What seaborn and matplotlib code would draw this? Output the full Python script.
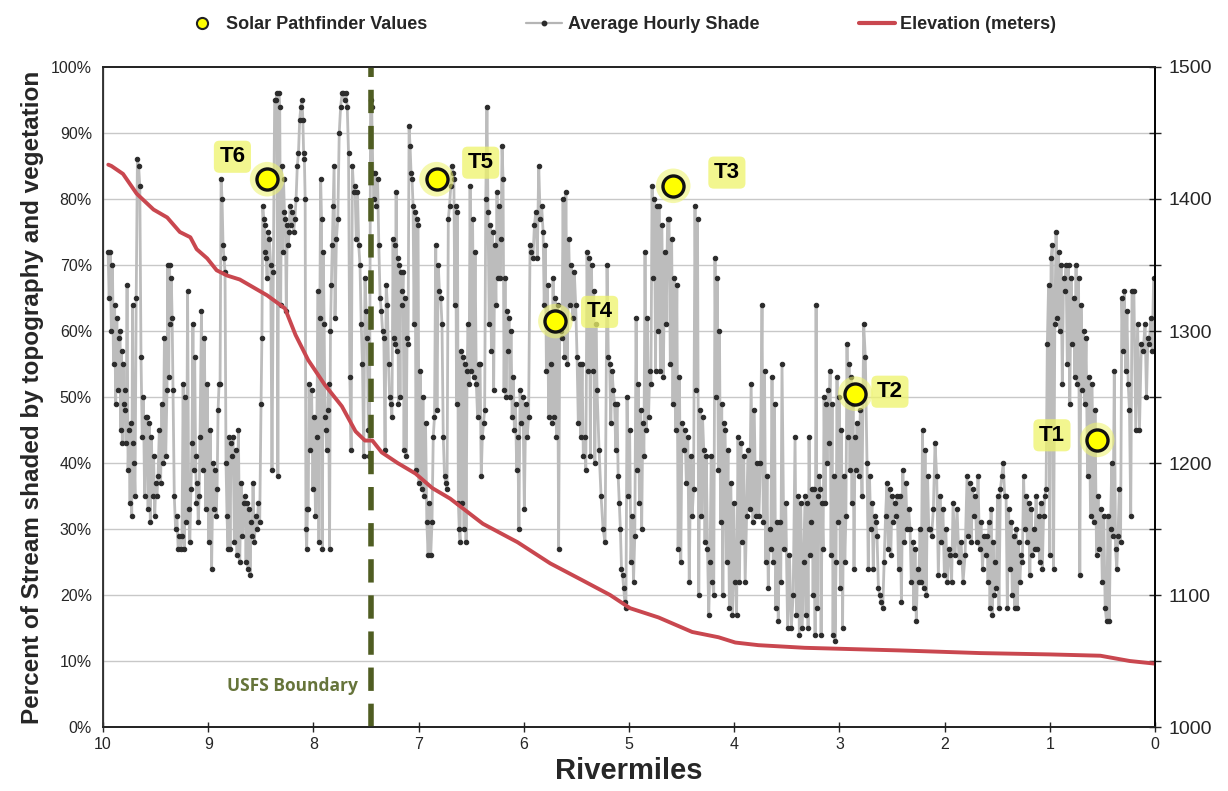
import numpy as np
import pandas as pd
import matplotlib
matplotlib.use("Agg")
import matplotlib.pyplot as plt
from matplotlib.lines import Line2D
from matplotlib.ticker import MultipleLocator, FuncFormatter
import seaborn as sns

# ---------------- data ----------------
# Average hourly shade (%) in short segments; each segment starts at the given rivermile
starts_G = [9.952, 9.838, 9.781, 9.743, 9.696, 9.582, 9.477, 9.392, 9.335, 9.249,
            9.154, 9.078, 8.954, 8.878, 8.831, 8.764, 8.650, 8.574, 8.498, 8.432]
shade_G = [
    [72, 65, 72, 60, 70, 55, 64, 49, 62, 51, 59],
    [60, 45, 57, 43, 55, 49, 51, 48],
    [43, 67, 39, 45],
    [34, 46, 32, 64, 43, 40],
    [35, 65, 86, 85, 82, 56, 44, 50, 35, 47],
    [47, 33, 46, 31, 44, 35, 41, 32, 37, 35],
    [38, 45, 37, 49, 40, 59, 41],
    [51, 70, 53, 70, 61, 68, 62],
    [51, 35, 30, 32, 27, 29, 27],
    [29, 52, 27, 50, 31, 66, 33, 28, 36],
    [43, 61, 39, 56, 41, 34, 37, 31, 35],
    [44, 63, 39, 59, 33, 52, 28, 45, 24],
    [40, 33, 39, 32, 36, 48, 52, 52],
    [83, 80, 73, 71, 69],
    [40, 32, 27, 44, 27, 43, 41],
    [44, 28, 42, 26, 45, 25, 37, 29, 34],
    [35, 25, 34, 24, 33, 23, 31, 29],
    [37, 28, 32, 30, 34, 31],
    [49, 59, 79, 77, 76, 72, 71, 68],
    [75, 74, 70, 39, 69, 95],
]
starts_H = [8.356, 8.222, 8.108, 8.042, 7.956, 7.890, 7.795, 7.728, 7.605, 7.510,
            7.414, 7.319, 7.243, 7.148, 7.091, 6.996, 6.873, 6.778]
shade_H = [
    [95, 96, 38, 96, 94, 64, 85, 72, 83, 78, 77, 63, 76, 73, 75],
    [79, 76, 78, 75, 77, 80, 85, 87, 92, 94],
    [95, 92, 87, 86, 80, 30, 27, 33, 33],
    [52, 42, 51, 36, 47, 32, 44],
    [66, 28, 62, 83, 77, 27, 72, 61],
    [47, 45, 42, 48, 52, 27, 60, 67, 73, 79, 85],
    [62, 74, 77, 90, 94],
    [96, 96, 95, 96, 94, 87, 53, 42, 85, 81],
    [82, 74, 81, 73, 70, 61, 55, 41],
    [68, 63, 59, 45, 41, 95, 94, 84, 80],
    [84, 79, 83, 73, 65, 63, 60, 59],
    [42, 67, 64, 55, 50, 49, 47],
    [74, 59, 73, 58, 81, 57, 71, 49, 70, 50, 69, 66, 64],
    [69, 42, 65, 41, 59, 58],
    [91, 88, 84, 83, 79, 61, 78, 39, 77, 76],
    [37, 54, 36, 50, 35, 46, 31, 26, 34, 26],
    [31, 44, 47, 73, 48, 70, 66, 65],
    [61, 44, 38, 37, 36, 77, 79, 82],
]
starts_I = [6.682, 6.597, 6.511, 6.416, 6.340, 6.255, 6.188, 6.122, 6.036, 5.941,
            5.817, 5.722, 5.627, 5.494, 5.399, 5.304, 5.209, 5.114]
shade_I = [
    [85, 84, 83, 64, 79, 49, 78, 34, 30, 28],
    [57, 34, 56, 30, 55, 28, 54, 61, 52],
    [82, 54, 77, 53, 72, 52, 47, 55],
    [55, 38, 44, 46, 48, 80, 94],
    [78, 61, 76, 57, 75, 51, 73, 64],
    [81, 68, 79, 68, 74, 88, 83],
    [51, 68, 50, 63, 57, 62, 50],
    [60, 47, 53, 45, 49, 39, 44, 30],
    [51, 46, 50, 33, 49, 44, 47],
    [73, 72, 71, 76, 78, 71, 85, 77, 79],
    [75, 64, 73, 54, 67, 47, 62, 55, 46],
    [68, 47, 65, 44, 64, 27, 61, 60, 59],
    [80, 56, 81, 55, 74, 64, 70, 62, 69, 64],
    [56, 46, 55, 44, 55, 41, 44, 39],
    [72, 54, 71, 41, 70, 54, 66, 40, 61],
    [51, 42, 35, 30, 28],
    [70, 56, 55, 46, 54, 51, 49, 42],
    [49, 38, 34, 30, 24, 23, 21, 19, 18],
]
starts_J = [5.019, 4.933, 4.848, 4.781, 4.715, 4.620, 4.496, 4.373, 4.278, 4.183,
            4.087, 3.964, 3.869, 3.736, 3.641, 3.546, 3.422]
shade_J = [
    [50, 35, 45, 25, 32, 22, 29],
    [62, 39, 52, 34, 48, 30, 46, 41],
    [72, 45, 62, 47, 54, 52],
    [82, 68, 80, 54, 79, 60],
    [79, 54, 76, 53, 72, 61, 77],
    [77, 55, 74, 49, 68, 45, 67, 27, 53, 25],
    [46, 42, 45, 37, 44, 22, 41, 32, 36],
    [79, 51, 77, 20, 48, 32, 47, 42],
    [28, 41, 27, 17, 25, 41, 22, 20],
    [71, 50, 68, 39, 60, 31, 49, 20, 46],
    [45, 25, 42, 18, 37, 17, 34, 22, 17],
    [44, 22, 43, 28, 41, 22, 32],
    [42, 33, 52, 31, 48, 32, 40, 32, 40],
    [64, 31, 54, 25, 38, 21, 30, 27],
    [53, 25, 49, 18, 31, 16, 31, 22],
    [55, 27, 34, 15, 26, 15, 20],
    [44, 17, 35, 14, 34, 15, 25],
]
starts_K = [3.327, 3.260, 3.184, 3.089, 3.023, 2.928, 2.833, 2.738, 2.643, 2.548,
            2.452, 2.329, 2.234, 2.139, 2.044, 1.920, 1.787]
shade_K = [
    [35, 17, 34, 15, 44, 26, 31],
    [36, 20, 36, 14, 64, 18, 35, 38],
    [36, 14, 34, 27, 50, 34, 49, 40, 51, 43],
    [54, 26, 49, 14, 38, 13, 25],
    [53, 31, 50, 21, 45, 15, 38, 25, 32],
    [58, 44, 55, 39, 53, 34, 49, 24, 44, 39],
    [46, 38, 48, 35, 61, 56],
    [40, 24, 38, 30, 34, 24, 32, 31],
    [29, 21, 20, 19, 18, 25, 32],
    [37, 27, 36, 26, 35, 31, 34, 32],
    [35, 24, 35, 19, 39, 28, 37, 30, 33],
    [30, 22, 28, 18, 27, 16, 24, 22],
    [30, 22, 45, 21, 42, 20, 38, 30],
    [30, 29, 33, 43, 38, 23],
    [35, 28, 33, 23, 30, 22, 27, 26, 22],
    [34, 26, 33, 25, 28, 22, 26],
    [38, 29, 37, 28, 36, 32, 35, 28],
]
starts_L = [1.683, 1.597, 1.511, 1.416, 1.321, 1.226, 1.131, 1.036, 0.941, 0.846,
            0.751, 0.656, 0.542, 0.447, 0.352, 0.219, 0.095]
shade_L = [
    [38, 27, 31, 24, 29, 26],
    [29, 22, 31, 18, 33, 17, 28, 20, 25],
    [21, 35, 18, 36, 38, 40, 35],
    [35, 18, 33, 24, 31, 20, 29, 18],
    [30, 18, 28, 22, 26, 25, 38, 30],
    [35, 28, 34, 23, 33, 26, 30, 27],
    [35, 27, 32, 25, 34, 24, 32, 35],
    [36, 58, 67, 26, 71, 73, 24, 61],
    [75, 62, 72, 60, 70, 52, 68, 66],
    [70, 55, 70, 49, 68, 58, 65, 53],
    [70, 52, 68, 23, 64, 51, 60, 49],
    [59, 38, 53, 32, 52, 31, 48, 26],
    [35, 27, 33, 22, 32, 18, 16],
    [32, 16, 30, 40, 29, 54, 27, 24],
    [29, 36, 28, 65, 57, 66, 54, 63, 52, 48, 32],
    [66, 66, 45, 61, 45, 58, 57],
    [61, 50, 59, 58, 62, 57, 68],
]
shade_end_mile = 0.0

# Elevation profile (meters)
elev_miles = [9.95, 9.92, 9.81, 9.68, 9.52, 9.39, 9.27, 9.17, 9.11, 9.01, 8.92, 8.82, 8.70,
              8.57, 8.44, 8.32, 8.27, 8.17, 8.05, 7.89, 7.73, 7.60, 7.51, 7.44, 7.35, 7.20,
              7.03, 6.87, 6.70, 6.39, 6.06, 5.75, 5.44, 5.18, 4.99, 4.72, 4.40, 4.15, 3.99,
              3.77, 3.33, 2.42, 1.66, 1.00, 0.52, 0.24, 0.00]
elev_m = [1426, 1425, 1419, 1404, 1392, 1386, 1375, 1371, 1362, 1355, 1346, 1342, 1339,
          1333, 1327, 1320, 1317, 1297, 1278, 1259, 1243, 1224, 1217, 1217, 1208, 1200,
          1192, 1181, 1173, 1154, 1140, 1124, 1111, 1100, 1090, 1083, 1072, 1068, 1064,
          1062, 1060, 1058, 1056, 1055, 1054, 1050, 1048]

# Solar Pathfinder values
sp_labels = ["T6", "T5", "T4", "T3", "T2", "T1"]
sp_miles = [8.44, 6.83, 5.70, 4.58, 2.85, 0.55]
sp_values = [83, 83, 61.5, 82, 50.5, 43.5]
sp_label_pos = [(8.77, 86.4), (6.41, 85.5), (5.28, 62.9), (4.07, 84.0), (2.52, 50.8), (0.98, 44.2)]

usfs_boundary_mile = 7.45

# ---------------- build shade series ----------------
all_starts = starts_G + starts_H + starts_I + starts_J + starts_K + starts_L
all_segs = shade_G + shade_H + shade_I + shade_J + shade_K + shade_L
xs, ys = [], []
for i, (s, vals) in enumerate(zip(all_starts, all_segs)):
    e = all_starts[i + 1] if i + 1 < len(all_starts) else shade_end_mile
    xs.extend(np.linspace(s, e, len(vals), endpoint=False))
    ys.extend(vals)
shade_df = pd.DataFrame({"mile": xs, "shade": ys})
elev_df = pd.DataFrame({"mile": elev_miles, "elev": elev_m})
sp_df = pd.DataFrame({"mile": sp_miles, "val": sp_values, "label": sp_labels})

# ---------------- plot ----------------
sns.set_theme(style="white")
plt.rcParams['font.family'] = ['Liberation Sans', 'DejaVu Sans']

fig = plt.figure(figsize=(12.28, 7.91), dpi=100)
ax = fig.add_axes([0.0839, 0.0809, 0.9406 - 0.0839, 0.9153 - 0.0809])

for v in range(10, 100, 10):
    ax.axhline(v, color="#c8c8c8", lw=1.0, zorder=0)

sns.lineplot(data=shade_df, x="mile", y="shade", ax=ax, sort=False, estimator=None,
             color="#bcbcbc", lw=2.0, marker="o", markersize=3.2,
             markerfacecolor="#2b2b2b", markeredgecolor="#2b2b2b", zorder=2)

ax.axvline(usfs_boundary_mile, color="#4f5d22", lw=4, dashes=(4.2, 2.3), zorder=3)
ax.text(7.58, 6.2, "USFS Boundary", ha="right", va="center", fontsize=12.5,
        fontweight="bold", color="#66743a", family=["Open Sans", "DejaVu Sans"])

# pathfinder halo + markers
sns.scatterplot(data=sp_df, x="mile", y="val", ax=ax, s=620, color="#eef36a",
                alpha=0.55, edgecolor="none", zorder=4, legend=False)
sns.scatterplot(data=sp_df, x="mile", y="val", ax=ax, s=230, color="#ffff00",
                edgecolor="#111111", linewidth=2.4, zorder=5, legend=False)
for lab, (lx, ly) in zip(sp_labels, sp_label_pos):
    ax.text(lx, ly, lab, ha="center", va="center", fontsize=16, fontweight="bold",
            color="black", zorder=6,
            bbox=dict(boxstyle="round,pad=0.25", fc="#eef36a", ec="none", alpha=0.75))

ax.set_xlim(10, 0)
ax.set_ylim(0, 100)
ax.xaxis.set_major_locator(MultipleLocator(1))
ax.yaxis.set_major_locator(MultipleLocator(10))
ax.yaxis.set_major_formatter(FuncFormatter(lambda v, p: f"{v:.0f}%"))
ax.set_xlabel("Rivermiles", fontsize=21, fontweight="bold", labelpad=3)
ax.set_ylabel("Percent of Stream shaded by topography and vegetation", fontsize=17.5,
              fontweight="bold", labelpad=5)
ax.tick_params(axis="x", direction="inout", length=7, width=1, labelsize=11.5, pad=4, bottom=True)
ax.tick_params(axis="y", length=0, labelsize=11.5, pad=8)
for side in ["top", "bottom", "right"]:
    ax.spines[side].set_color("black")
    ax.spines[side].set_linewidth(1.2)
ax.spines["left"].set_color("#888888")
ax.spines["left"].set_linewidth(1.0)

ax2 = ax.twinx()
sns.lineplot(data=elev_df, x="mile", y="elev", ax=ax2, sort=False, estimator=None,
             color="#c9474f", lw=2.8)
ax2.set_ylim(1000, 1500)
ax2.set_xlim(10, 0)
ax2.yaxis.set_major_locator(MultipleLocator(100))
ax2.yaxis.set_minor_locator(MultipleLocator(50))
ax2.tick_params(axis="y", which="both", direction="inout", length=8, width=1,
                labelsize=14, pad=6, right=True)
ax2.set_ylabel("")
ax2.spines["right"].set_color("black")
ax2.spines["right"].set_linewidth(1.2)

handles = [
    Line2D([], [], ls="none", marker="o", markersize=8, markerfacecolor="#ffff00",
           markeredgecolor="#222222", markeredgewidth=1.5),
    Line2D([], [], color="#b5b5b5", lw=1.6, marker="o", markersize=3.2,
           markerfacecolor="#2b2b2b", markeredgecolor="#2b2b2b"),
    Line2D([], [], color="#c9474f", lw=3),
]
fig.legend(handles, ["Solar Pathfinder Values", "Average Hourly Shade", "Elevation (meters)"],
           loc="upper center", bbox_to_anchor=(0.505, 1.0), ncol=3, frameon=False,
           prop={"weight": "bold", "size": 13}, columnspacing=5.5, handlelength=2.0,
           handletextpad=0.3)

fig.savefig("out.png", dpi=100)
